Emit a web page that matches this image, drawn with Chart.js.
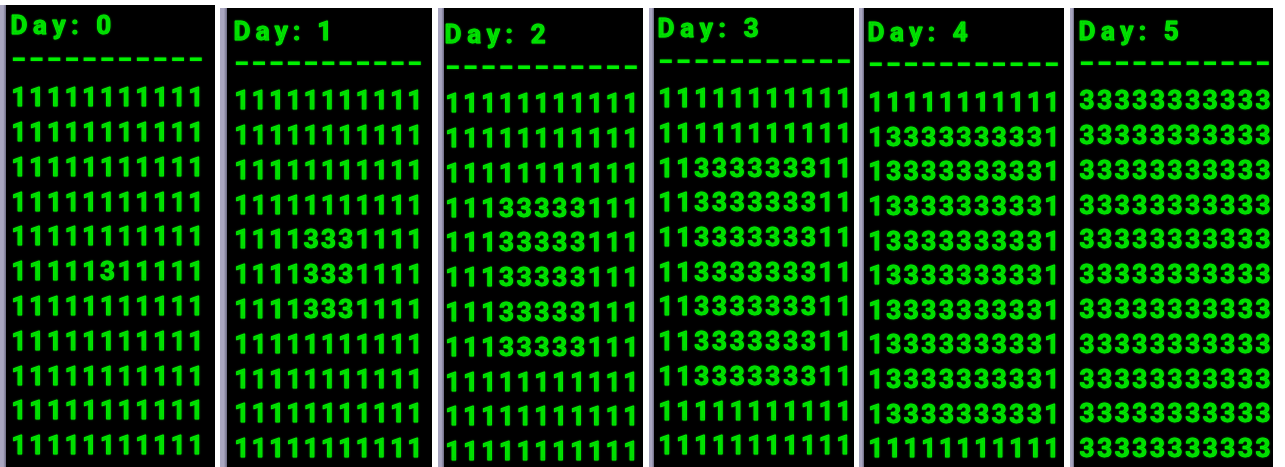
<!DOCTYPE html>
<html><head><meta charset="utf-8">
<script src="https://cdn.jsdelivr.net/npm/chart.js@4.4.1/dist/chart.umd.min.js"></script>
<style>
html,body{margin:0;padding:0;background:#fff;width:1285px;height:467px;overflow:hidden;}
.panel{position:absolute;background:#000;box-sizing:border-box;}
.edge{position:absolute;top:0;bottom:0;left:0;background:linear-gradient(to right,#a9a6c0 0%,#a9a6c0 55%,#6c6a84 100%);}
canvas{position:absolute;}
</style></head><body>
<script>
// ---- data ----
const days = [0, 1, 2, 3, 4, 5];
const titlePrefix = 'Day: ';
const divider = '-----------';
const day0 = [
  '11111111111','11111111111','11111111111','11111111111','11111111111',
  '11111311111',
  '11111111111','11111111111','11111111111','11111111111','11111111111'];
const day1 = [
  '11111111111','11111111111','11111111111','11111111111',
  '11113331111','11113331111','11113331111',
  '11111111111','11111111111','11111111111','11111111111'];
const day2 = [
  '11111111111','11111111111','11111111111',
  '11133333111','11133333111','11133333111','11133333111','11133333111',
  '11111111111','11111111111','11111111111'];
const day3 = [
  '11111111111','11111111111',
  '11333333311','11333333311','11333333311','11333333311','11333333311','11333333311','11333333311',
  '11111111111','11111111111'];
const day4 = [
  '11111111111',
  '13333333331','13333333331','13333333331','13333333331','13333333331','13333333331','13333333331','13333333331','13333333331',
  '11111111111'];
const day5 = [
  '33333333333','33333333333','33333333333','33333333333','33333333333','33333333333',
  '33333333333','33333333333','33333333333','33333333333','33333333333'];
const grids = [day0, day1, day2, day3, day4, day5];

// ---- layout (pixels) ----
const panels = [
  {left:0,    edge:6, right:215,  top:5, x0:19,   x1:196,  y0:97,  y1:445, ty:25, dy:62},
  {left:220,  edge:7, right:432,  top:8, x0:242,  x1:415,  y0:100, y1:448, ty:31, dy:66},
  {left:438,  edge:6, right:643,  top:8, x0:453,  x1:631,  y0:103, y1:451, ty:34, dy:70},
  {left:649,  edge:5, right:854,  top:8, x0:666,  x1:844,  y0:98,  y1:445, ty:28, dy:64},
  {left:859,  edge:5, right:1064, top:8, x0:876,  x1:1052, y0:102, y1:448, ty:32, dy:67},
  {left:1070, edge:4, right:1273, top:8, x0:1087, x1:1263, y0:100, y1:448, ty:31, dy:66}
];
const H = 467;
const FONT_SIZE = 26;
const GREEN = '#00f000';

const gridText = {
  id: 'gridText',
  afterDatasetsDraw(chart, args, opts) {
    const ctx = chart.ctx, xs = chart.scales.x;
    const cap = FONT_SIZE * 0.711;
    ctx.save();
    ctx.font = `bold ${FONT_SIZE}px Roboto`;
    ctx.fillStyle = GREEN;
    ctx.strokeStyle = GREEN;
    ctx.lineWidth = 0.9;
    ctx.lineJoin = 'round';
    ctx.shadowColor = 'rgba(0,140,0,0.9)';
    ctx.shadowBlur = 2;
    ctx.textBaseline = 'alphabetic';
    ctx.textAlign = 'center';
    const ds = chart.data.datasets[0];
    chart.getDatasetMeta(0).data.forEach((el, j) => {
      ctx.fillText(ds.data[j].v, el.x, el.y + cap / 2);
      ctx.strokeText(ds.data[j].v, el.x, el.y + cap / 2);
    });
    const c0 = xs.getPixelForValue(0);
    const pitch = xs.getPixelForValue(1) - c0;
    // title
    ctx.textAlign = 'left';
    ctx.letterSpacing = '0px';
    const w = ctx.measureText(opts.title).width;
    const n = opts.title.length;
    const sp = (n * pitch - w) / n;
    const dW = ctx.measureText(opts.title[0]).width;
    ctx.letterSpacing = sp.toFixed(2) + 'px';
    ctx.fillText(opts.title, c0 - dW / 2, opts.ty + cap / 2);
    ctx.strokeText(opts.title, c0 - dW / 2, opts.ty + cap / 2);
    // divider
    ctx.letterSpacing = '0px';
    const adv = ctx.measureText('-').width;
    const sx = 1.65;
    ctx.letterSpacing = (pitch / sx - adv).toFixed(2) + 'px';
    ctx.translate(c0, opts.dy);
    ctx.scale(sx, 1.2);
    ctx.fillText(opts.divider, -adv / 2, FONT_SIZE * 0.23);
    ctx.restore();
  }
};

panels.forEach((p, i) => {
  const cl = p.left + p.edge, cw = p.right - cl, ch = H - p.top;
  const div = document.createElement('div');
  div.className = 'panel';
  div.style.cssText = `left:${p.left}px;top:${p.top}px;width:${p.right - p.left}px;height:${H - p.top}px`;
  const edge = document.createElement('div');
  edge.className = 'edge';
  edge.style.width = p.edge + 'px';
  div.appendChild(edge);
  const cv = document.createElement('canvas');
  cv.width = cw; cv.height = ch;
  cv.style.cssText = `left:${p.edge}px;top:0px;width:${cw}px;height:${ch}px`;
  div.appendChild(cv);
  document.body.appendChild(div);

  const pts = [];
  grids[i].forEach((row, r) => row.split('').forEach((c, k) => pts.push({x: k, y: r, v: c})));

  const px0 = p.x0 - cl, px1 = p.x1 - cl;
  const xr = 10 * cw / (px1 - px0), xa = -px0 * 10 / (px1 - px0);
  const py0 = p.y0 - p.top, py1 = p.y1 - p.top;
  const yr = 10 * ch / (py1 - py0), ya = -py0 * 10 / (py1 - py0);

  new Chart(cv, {
    type: 'scatter',
    data: {datasets: [{data: pts, pointRadius: 0, pointHoverRadius: 0}]},
    options: {
      responsive: false, animation: false, devicePixelRatio: 1, events: [],
      layout: {padding: 0},
      plugins: {
        legend: {display: false}, tooltip: {enabled: false},
        gridText: {title: titlePrefix + days[i], divider: divider, ty: p.ty - p.top, dy: p.dy - p.top}
      },
      scales: {
        x: {type: 'linear', display: false, min: xa, max: xa + xr},
        y: {type: 'linear', display: false, reverse: true, min: ya, max: ya + yr}
      }
    },
    plugins: [gridText]
  });
});
</script>
</body></html>
